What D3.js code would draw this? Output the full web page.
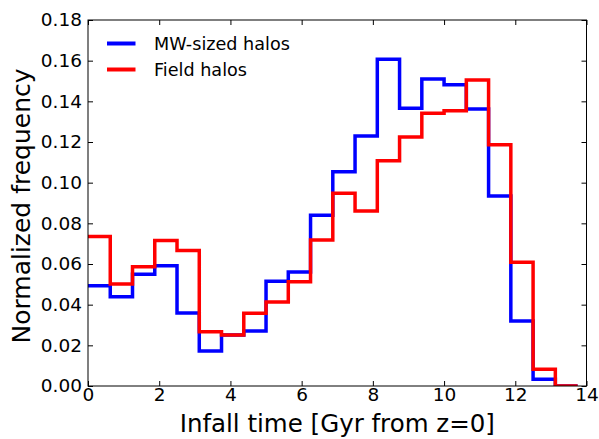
<!DOCTYPE html>
<html>
<head>
<meta charset="utf-8">
<script src="https://cdn.jsdelivr.net/npm/d3@7"></script>
<style>
  html, body { margin: 0; padding: 0; background: #fff; }
  svg { display: block; font-family: "DejaVu Sans", sans-serif; }
</style>
</head>
<body>
<div id="chart"></div>
<script>
/* Step histograms of infall time, MW-sized vs field halos */

const BIN_EDGES = [0, 0.625, 1.25, 1.875, 2.5, 3.125, 3.75, 4.375, 5, 5.625, 6.25,
  6.875, 7.5, 8.125, 8.75, 9.375, 10, 10.625, 11.25, 11.875, 12.5, 13.125, 13.75];

const MW_FREQ = [0.0493, 0.0439, 0.0549, 0.0592, 0.0359, 0.0172, 0.0251, 0.0271,
  0.0515, 0.0561, 0.0840, 0.1054, 0.1230, 0.1607, 0.1366, 0.1510, 0.1482, 0.1362,
  0.0935, 0.0320, 0.0033, 0.0];

const FIELD_FREQ = [0.0735, 0.0502, 0.0587, 0.0715, 0.0666, 0.0267, 0.0251, 0.0358,
  0.0413, 0.0513, 0.0718, 0.0948, 0.0861, 0.1108, 0.1225, 0.1341, 0.1354, 0.1505,
  0.1187, 0.0608, 0.0082, 0.0];

const X_TICKS = [0, 2, 4, 6, 8, 10, 12, 14];
const Y_TICKS = [0, 0.02, 0.04, 0.06, 0.08, 0.10, 0.12, 0.14, 0.16, 0.18];

const SERIES = [
  { name: 'MW-sized halos', values: MW_FREQ, color: '#0000ff' },
  { name: 'Field halos', values: FIELD_FREQ, color: '#ff0000' },
];

const width = 599;
const height = 439;
const margin = { top: 20, right: 12.5, bottom: 53, left: 88 };

const svg = d3.select('#chart').append('svg')
  .attr('width', width)
  .attr('height', height);

const x = d3.scaleLinear().domain([0, 14]).range([margin.left, width - margin.right]);
const y = d3.scaleLinear().domain([0, 0.18]).range([height - margin.bottom, margin.top]);

// step outline like matplotlib histtype='step' (left edge sits on the spine)
function stepPoints(values) {
  const pts = [];
  values.forEach((v, i) => {
    pts.push([BIN_EDGES[i], v]);
    pts.push([BIN_EDGES[i + 1], v]);
  });
  pts.push([BIN_EDGES[values.length], 0]);
  return pts;
}

const line = d3.line().x((d) => x(d[0])).y((d) => y(d[1]));

svg.append('clipPath').attr('id', 'clip')
  .append('rect')
  .attr('x', x(0)).attr('y', y(0.18))
  .attr('width', x(14) - x(0)).attr('height', y(0) - y(0.18));

svg.append('g').attr('clip-path', 'url(#clip)')
  .selectAll('path.hist')
  .data(SERIES)
  .join('path')
  .attr('class', 'hist')
  .attr('d', (d) => line(stepPoints(d.values)))
  .attr('fill', 'none')
  .attr('stroke', (d) => d.color)
  .attr('stroke-width', 3.5)
  .attr('stroke-linejoin', 'miter');

// axes, ticks pointing inward on all four sides
const tickLen = 5;
const fmtY = d3.format('.2f');

const xBottom = svg.append('g')
  .attr('transform', `translate(0,${y(0)})`)
  .call(d3.axisBottom(x).tickValues(X_TICKS).tickSize(-tickLen).tickPadding(4).tickFormat(d3.format('d')));
const xTop = svg.append('g')
  .attr('transform', `translate(0,${y(0.18)})`)
  .call(d3.axisTop(x).tickValues(X_TICKS).tickSize(-tickLen).tickFormat(''));
const yLeft = svg.append('g')
  .attr('transform', `translate(${x(0)},0)`)
  .call(d3.axisLeft(y).tickValues(Y_TICKS).tickSize(-tickLen).tickPadding(6).tickFormat(fmtY));
const yRight = svg.append('g')
  .attr('transform', `translate(${x(14)},0)`)
  .call(d3.axisRight(y).tickValues(Y_TICKS).tickSize(-tickLen).tickFormat(''));

[xBottom, xTop, yLeft, yRight].forEach((g) => {
  g.select('.domain').remove();
  g.selectAll('.tick line').attr('stroke', '#000').attr('stroke-width', 1);
  g.selectAll('.tick text')
    .attr('fill', '#000')
    .style('font-size', '18.5px')
    .style('font-family', '"DejaVu Sans", sans-serif');
});
xBottom.selectAll('.tick text').attr('dy', '0.71em').attr('y', 2);

svg.append('rect')
  .attr('x', x(0)).attr('y', y(0.18))
  .attr('width', x(14) - x(0)).attr('height', y(0) - y(0.18))
  .attr('fill', 'none')
  .attr('stroke', '#000')
  .attr('stroke-width', 1);

// axis labels
svg.append('text')
  .attr('x', (x(0) + x(14)) / 2)
  .attr('y', 432)
  .attr('text-anchor', 'middle')
  .style('font-size', '24.5px')
  .text('Infall time [Gyr from z=0]');

svg.append('text')
  .attr('transform', `translate(30,${(y(0) + y(0.18)) / 2 + 3}) rotate(-90)`)
  .attr('text-anchor', 'middle')
  .style('font-size', '25px')
  .text('Normalized frequency');

// legend
const legend = svg.append('g').selectAll('g')
  .data(SERIES)
  .join('g')
  .attr('transform', (d, i) => `translate(107,${43.5 + i * 26})`);

legend.append('line')
  .attr('x1', 0).attr('x2', 28.5)
  .attr('stroke', (d) => d.color)
  .attr('stroke-width', 4);

legend.append('text')
  .attr('x', 47)
  .attr('dy', '0.35em')
  .style('font-size', '17.6px')
  .text((d) => d.name);
</script>
</body>
</html>
